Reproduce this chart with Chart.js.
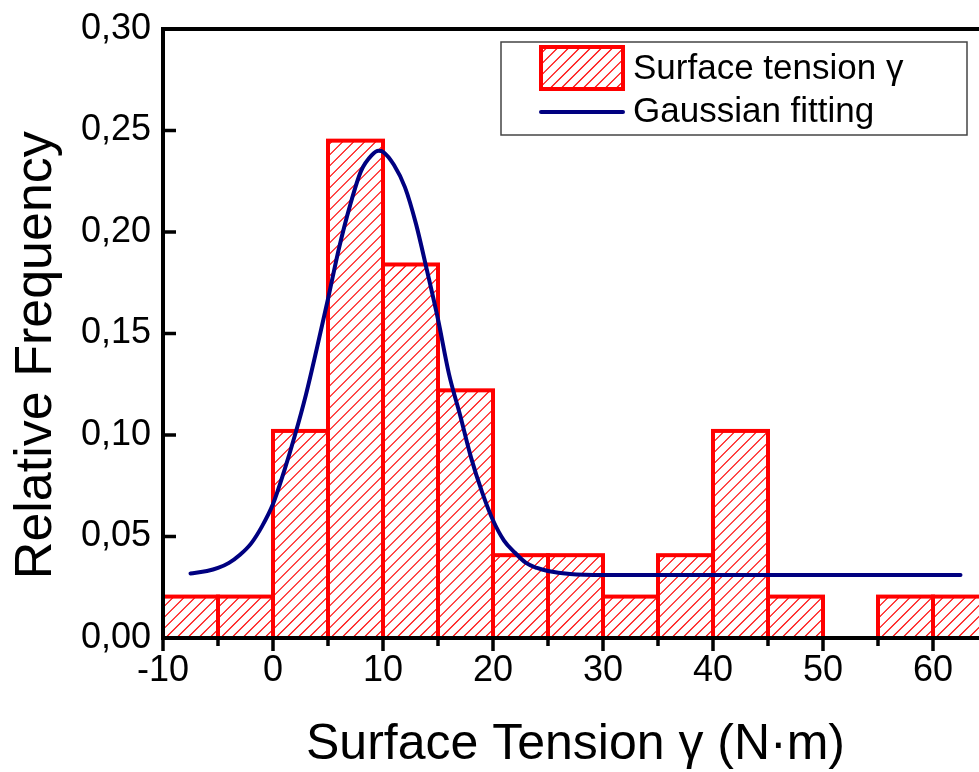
<!DOCTYPE html>
<html>
<head>
<meta charset="utf-8">
<script src="https://cdn.jsdelivr.net/npm/chart.js@4/dist/chart.umd.min.js"></script>
<style>
  html, body { margin: 0; padding: 0; background: #fff; overflow: hidden; }
  #chart { display: block; }
</style>
</head>
<body>
<canvas id="chart" width="1000" height="772"></canvas>
<script>
'use strict';
// ---------- Data ----------
// Histogram of surface tension, bins of 5 N·m starting at -10.
const binWidth = 5;
const binStart = [-10, -5, 0, 5, 10, 15, 20, 25, 30, 35, 40, 45, 50, 55, 60];
const relFreq  = [0.0204, 0.0204, 0.102, 0.245, 0.184, 0.122, 0.0408, 0.0408,
                  0.0204, 0.0408, 0.102, 0.0204, 0, 0.0204, 0.0204];

// Gaussian fitting curve
const fitX = [-7.5, -6, -5, -4, -3, -2, -1, 0, 1, 2, 3, 4, 5, 6, 7, 8, 9, 9.6, 10,
              11, 12, 13, 14, 15, 16, 17, 18, 19, 20, 21, 22, 23, 24, 25, 27, 30, 40, 50, 62.5];
const fitY = [0.0318, 0.033, 0.0345, 0.037, 0.041, 0.0465, 0.055, 0.066, 0.082, 0.100,
              0.120, 0.143, 0.167, 0.192, 0.213, 0.230, 0.238, 0.240, 0.2395,
              0.233, 0.222, 0.204, 0.181, 0.157, 0.130, 0.110, 0.089, 0.072, 0.058,
              0.048, 0.042, 0.037, 0.0345, 0.033, 0.0315, 0.031, 0.031, 0.031, 0.031];

const xTicks = [-10, 0, 10, 20, 30, 40, 50, 60];
const yTicks = [0, 0.05, 0.10, 0.15, 0.20, 0.25, 0.30];

const FONT = "'Liberation Sans', Arial, sans-serif";
const RED  = '#ff0000';
const NAVY = '#000080';
const HATCH_GAP = 11;

// red "/" hatching inside a rectangle (global phase, so every bar looks
// the same), then its outline
function hatchRect(ctx, x, y, w, h) {
    ctx.save();
    ctx.beginPath();
    ctx.rect(x, y, w, h);
    ctx.clip();
    ctx.strokeStyle = RED;
    ctx.lineWidth = 1.2;
    ctx.beginPath();
    const c0 = Math.floor((x + y) / HATCH_GAP) * HATCH_GAP + 0.5;
    for (let c = c0; c < x + w + y + h + HATCH_GAP; c += HATCH_GAP) {
        ctx.moveTo(c - (y + h), y + h);
        ctx.lineTo(c - y, y);
    }
    ctx.stroke();
    ctx.restore();

    ctx.save();
    ctx.strokeStyle = RED;
    ctx.lineWidth = 4;
    ctx.strokeRect(x, y, w, h);
    ctx.restore();
}

// ---------- Plugins ----------
const barHatch = {
    id: 'barHatch',
    afterDatasetDraw(chart, args) {
        if (args.index !== 0) return;
        args.meta.data.forEach((bar, i) => {
            if (!relFreq[i]) return;
            const p = bar.getProps(['x', 'y', 'base', 'width'], true);
            hatchRect(chart.ctx, p.x - p.width / 2, p.y, p.width, p.base - p.y);
        });
    },
};

// frame + tick marks (x outward with minors, y inward)
const frame = {
    id: 'frame',
    afterDatasetsDraw(chart) {
        const { ctx, chartArea: a, scales } = chart;
        ctx.save();
        ctx.strokeStyle = '#000';
        ctx.lineCap = 'butt';
        ctx.lineWidth = 3.5;
        for (let v = -10; v <= 60; v += 5) {
            const px = scales.x.getPixelForValue(v);
            const len = v % 10 === 0 ? 13 : 8;
            ctx.beginPath();
            ctx.moveTo(px, a.bottom);
            ctx.lineTo(px, a.bottom + len);
            ctx.stroke();
        }
        yTicks.forEach(v => {
            const py = scales.y.getPixelForValue(v);
            ctx.beginPath();
            ctx.moveTo(a.left, py);
            ctx.lineTo(a.left + 13, py);
            ctx.stroke();
        });
        ctx.lineWidth = 4;
        ctx.strokeRect(a.left, a.top, a.right - a.left, a.bottom - a.top);
        ctx.restore();
    },
};

// legend box in the upper right
const legendBox = {
    id: 'legendBox',
    afterDraw(chart) {
        const { ctx, chartArea: a } = chart;
        const left = a.right - 487, top = a.top + 13, w = 466, h = 93;
        ctx.save();
        ctx.strokeStyle = '#444';
        ctx.lineWidth = 1.5;
        ctx.strokeRect(left, top, w, h);
        ctx.restore();

        hatchRect(ctx, left + 40, top + 5, 82, 42);

        ctx.save();
        ctx.strokeStyle = NAVY;
        ctx.lineWidth = 4;
        ctx.lineCap = 'round';
        ctx.beginPath();
        ctx.moveTo(left + 40, top + 70);
        ctx.lineTo(left + 122, top + 70);
        ctx.stroke();

        ctx.fillStyle = '#000';
        ctx.font = '35px ' + FONT;
        ctx.textBaseline = 'middle';
        ctx.textAlign = 'left';
        ctx.fillText('Surface tension γ', left + 132, top + 27);
        ctx.fillText('Gaussian fitting', left + 132, top + 70);
        ctx.restore();
    },
};

// keep the plot box where the original has it
function noEdgePadding(s) {
    s.paddingTop = 0; s.paddingBottom = 0;
    s.paddingLeft = 0; s.paddingRight = 0;
}

// ---------- Chart ----------
new Chart(document.getElementById('chart'), {
    data: {
        datasets: [
            {
                type: 'bar',
                label: 'Surface tension γ',
                data: binStart.map((s, i) => ({ x: s + binWidth / 2, y: relFreq[i] })),
                backgroundColor: 'rgba(0,0,0,0)',
                borderWidth: 0,
                barPercentage: 1,
                categoryPercentage: 1,
                grouped: false,
                order: 2,
            },
            {
                type: 'line',
                label: 'Gaussian fitting',
                data: fitX.map((x, i) => ({ x, y: fitY[i] })),
                borderColor: NAVY,
                borderWidth: 4,
                pointRadius: 0,
                cubicInterpolationMode: 'monotone',
                borderCapStyle: 'round',
                fill: false,
                order: 1,
            },
        ],
    },
    options: {
        responsive: false,
        animation: false,
        devicePixelRatio: 1,
        layout: { padding: { left: 0, top: 29, right: 12, bottom: 0 } },
        plugins: {
            legend: { display: false },
            tooltip: { enabled: false },
        },
        scales: {
            x: {
                type: 'linear',
                offset: false,
                min: -10,
                max: 65,
                afterFit: s => { s.height = 134; noEdgePadding(s); },
                afterBuildTicks: s => { s.ticks = xTicks.map(v => ({ value: v })); },
                grid: { display: false, drawTicks: false, offset: false },
                border: { display: false },
                ticks: {
                    padding: 11,
                    color: '#000',
                    font: { family: FONT, size: 36 },
                    maxRotation: 0,
                    callback: v => String(v),
                },
                title: {
                    display: true,
                    text: 'Surface Tension γ (N·m)',
                    color: '#000',
                    font: { family: FONT, size: 50, lineHeight: 1 },
                    padding: { top: 0, bottom: 2 },
                },
            },
            y: {
                min: 0,
                max: 0.30,
                afterFit: s => { s.width = 163; noEdgePadding(s); },
                afterBuildTicks: s => { s.ticks = yTicks.map(v => ({ value: v })); },
                grid: { display: false, drawTicks: false },
                border: { display: false },
                ticks: {
                    padding: 12,
                    color: '#000',
                    font: { family: FONT, size: 36 },
                    callback: v => v.toFixed(2).replace('.', ','),
                },
                title: {
                    display: true,
                    text: 'Relative Frequency   ',
                    color: '#000',
                    font: { family: FONT, size: 52, lineHeight: 1.2 },
                    padding: { top: 5, bottom: 0 },
                },
            },
        },
    },
    plugins: [barHatch, frame, legendBox],
});
</script>
</body>
</html>
